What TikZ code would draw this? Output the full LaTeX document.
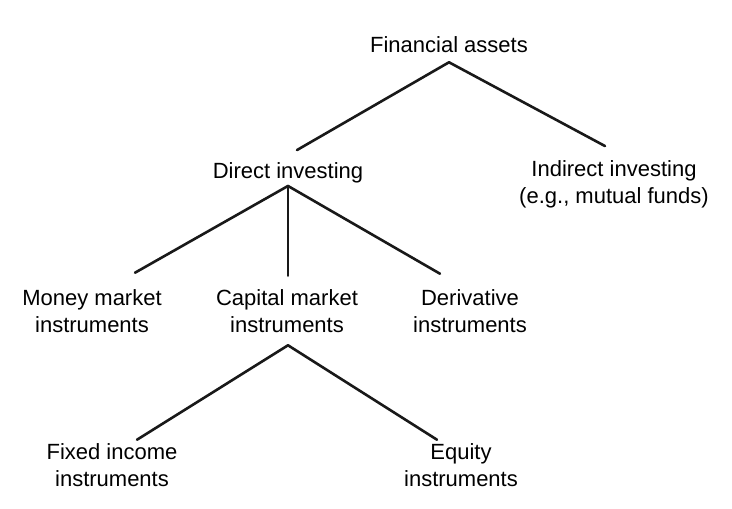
\documentclass[tikz,border=0pt]{standalone}
\usepackage{fontspec}
\setmainfont{Liberation Sans}
\usetikzlibrary{positioning, calc}
\tikzstyle{branch} = [draw, line width=2.6pt, black!90, line cap=round]

\begin{document}
\begin{tikzpicture}[x=1pt, y=-1pt]
  % Define styles
  \tikzstyle{item} = [align=center, inner sep=0pt, font=\fontsize{22}{27}\selectfont]

  \useasboundingbox (0,0) rectangle (732,509);

  % Place nodes
  \node [item] (fin) at (449,45) {Financial assets};
  \node [item] (direct) at (288,172.5) {Direct investing};
  \node [item] (indirect) at (614,184) {Indirect investing\\(e.g., mutual funds)};
  \node [item] (money) at (92,311.5) {Money market\\instruments};
  \node [item] (capital) at (287,311.5) {Capital market\\instruments};
  \node [item] (deriv) at (470,311.5) {Derivative\\instruments};
  \node [item] (fixed) at (112,465.5) {Fixed income\\instruments};
  \node [item] (equity) at (461,465.5) {Equity\\instruments};

  % Draw edges
  \path [branch] ($(fin.south)+(0,9)$) -- ($(direct.north)+(9,-12)$);
  \path [branch] ($(fin.south)+(0,9)$) -- ($(indirect.north)+(-9,-14)$);
  \path [branch] ($(direct.south)+(0,3)$) -- ($(money.north)+(43,-17)$);
  \path [branch] ($(direct.south)+(0,3)$) -- ($(capital.north)+(1,-14)$);
  \path [branch] ($(direct.south)+(0,3)$) -- ($(deriv.north)+(-30,-16)$);
  \path [branch] ($(capital.south)+(1,12)$) -- ($(fixed.north)+(25,-4)$);
  \path [branch] ($(capital.south)+(1,12)$) -- ($(equity.north)+(-24,-4)$);

\end{tikzpicture}
\end{document}
